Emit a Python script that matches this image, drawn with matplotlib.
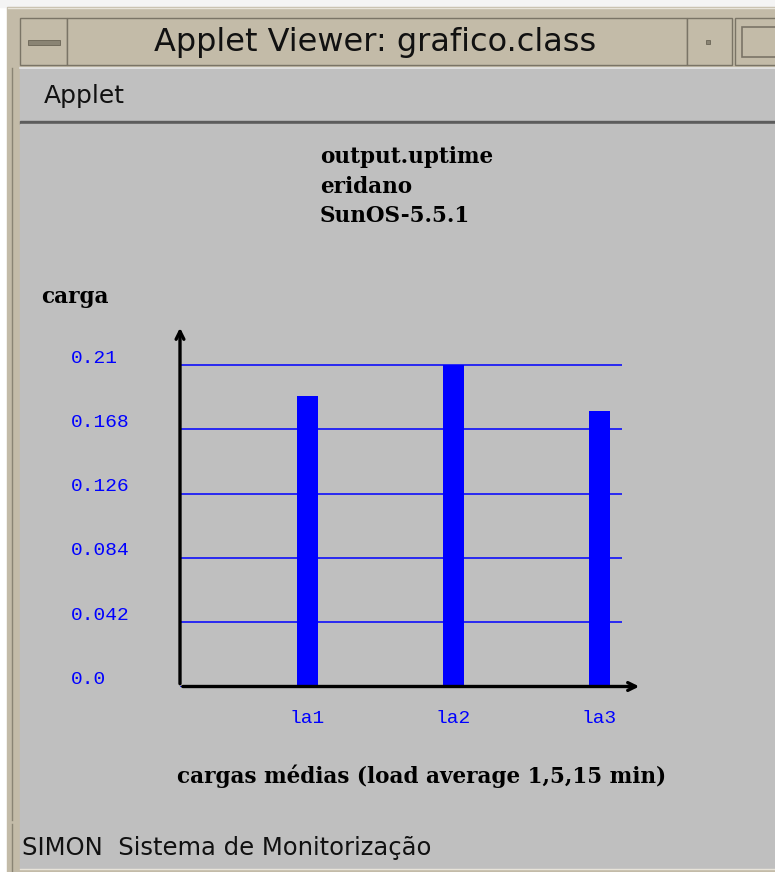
import numpy as np
import matplotlib
matplotlib.use("Agg")
import matplotlib.pyplot as plt
from matplotlib.patches import Rectangle

# data
categories = ["la1", "la2", "la3"]
loads = [0.19, 0.21, 0.18]
ytick_vals = [0.0, 0.042, 0.084, 0.126, 0.168, 0.21]
ytick_labels = ["0.0", "0.042", "0.084", "0.126", "0.168", "0.21"]
title_lines = ["output.uptime", "eridano", "SunOS-5.5.1"]
ylabel = "carga"
xlabel = "cargas médias (load average 1,5,15 min)"

W, H = 775, 872
fig = plt.figure(figsize=(W / 100, H / 100), dpi=100)
fig.patch.set_facecolor("#ffffff")

# background / window chrome, pixel coords
bg = fig.add_axes([0, 0, 1, 1])
bg.set_xlim(0, W)
bg.set_ylim(H, 0)
bg.axis("off")

beige = "#c3bba8"
gray = "#c0c0c0"
bg.add_patch(Rectangle((0, 0), W, 7, color="#f4f4f4"))
bg.add_patch(Rectangle((7, 7), W - 7, H - 7, color=beige))
# title bar pieces
bg.add_patch(Rectangle((20, 18), 47, 47, facecolor=beige, edgecolor="#7a7466", lw=1))
bg.add_patch(Rectangle((28, 40), 32, 5, facecolor="#8a8474", edgecolor="#6a6456", lw=0.6))
bg.add_patch(Rectangle((67, 18), 620, 47, facecolor=beige, edgecolor="#7a7466", lw=1))
bg.add_patch(Rectangle((687, 18), 45, 47, facecolor=beige, edgecolor="#7a7466", lw=1))
bg.add_patch(Rectangle((706, 40), 4, 4, facecolor="#8a8474", edgecolor="#6a6456", lw=0.6))
bg.add_patch(Rectangle((735, 18), 45, 47, facecolor=beige, edgecolor="#7a7466", lw=1))
bg.add_patch(Rectangle((742, 27), 40, 30, facecolor=beige, edgecolor="#7a7466", lw=1.2))
bg.plot([8, W], [8, 8], color="#e8e4da", lw=1)
bg.text(375, 43, "Applet Viewer: grafico.class", ha="center", va="center",
        fontsize=23, family="DejaVu Sans", color="#111111")

# menu bar + content
bg.add_patch(Rectangle((20, 68), W - 20, 54, color=gray))
bg.plot([20, W], [68.5, 68.5], color="#e6e6e6", lw=1.2)
bg.text(44, 96, "Applet", ha="left", va="center", fontsize=18,
        family="DejaVu Sans", color="#111111")
bg.add_patch(Rectangle((20, 121), W - 20, 3, color="#5c5c5c"))
bg.add_patch(Rectangle((20, 124), W - 20, H - 128, color="#bfbfbf"))
bg.plot([12, 12], [68, 820], color="#8a8474", lw=1)
bg.plot([12, 12], [824, H], color="#8a8474", lw=1)
bg.plot([20, W], [H - 3, H - 3], color="#e8e4da", lw=1)
bg.text(22, 848, "SIMON  Sistema de Monitorização", ha="left", va="center",
        fontsize=17.5, family="DejaVu Sans", color="#111111")

# chart text
serif = dict(family="DejaVu Serif", weight="bold", fontsize=15.5, color="black")
for i, line in enumerate(title_lines):
    bg.text(320, 163 + 29.5 * i, line, ha="left", va="baseline", **serif)
bg.text(41, 303, ylabel, ha="left", va="baseline", **serif)
bg.text(422, 783, xlabel, ha="center", va="baseline", **serif)

# chart axes
x0_px, x1_px, y0_px, ytop_px = 180, 622, 686.5, 325
ymax_px = 365
ax = fig.add_axes([x0_px / W, (H - y0_px) / H, (x1_px - x0_px) / W, (y0_px - ytop_px) / H])
ax.patch.set_alpha(0)
spacing = 146
first_px = 307.5
ax.set_xlim((x0_px - first_px) / spacing, (x1_px - first_px) / spacing)
ax.set_ylim(0, max(ytick_vals) * (y0_px - ytop_px) / (y0_px - ymax_px))

xpos = np.arange(len(categories))
ax.bar(xpos, loads, width=0.148, color="#0000ff", zorder=3)

ax.set_yticks(ytick_vals)
ax.yaxis.grid(True, color="#0000ff", lw=1.1, zorder=1)
ax.tick_params(left=False, bottom=False, labelleft=False, labelbottom=False)
for s in ax.spines.values():
    s.set_visible(False)

arrow = dict(arrowstyle="->", lw=2.4, color="black", mutation_scale=14)
ax.annotate("", xy=(0, 1.0), xytext=(0, 0), xycoords="axes fraction", arrowprops=arrow)
ax.annotate("", xy=((642 - x0_px) / (x1_px - x0_px), 0), xytext=(0, 0),
            xycoords="axes fraction", arrowprops=arrow)

mono = dict(family="Liberation Mono", fontsize=14, color="#0000ff")
lab_x = (71 - x0_px) / (x1_px - x0_px)
for v, lab in zip(ytick_vals, ytick_labels):
    ax.annotate(lab, xy=(lab_x, v), xycoords=ax.get_yaxis_transform(),
                xytext=(0, 5), textcoords="offset points", ha="left", va="center",
                annotation_clip=False, **mono)
for x, lab in zip(xpos, categories):
    ax.annotate(lab, xy=(x, 0), xytext=(0, -23), textcoords="offset points",
                ha="center", va="center", annotation_clip=False, **mono)

fig.savefig("out.png", dpi=100)
